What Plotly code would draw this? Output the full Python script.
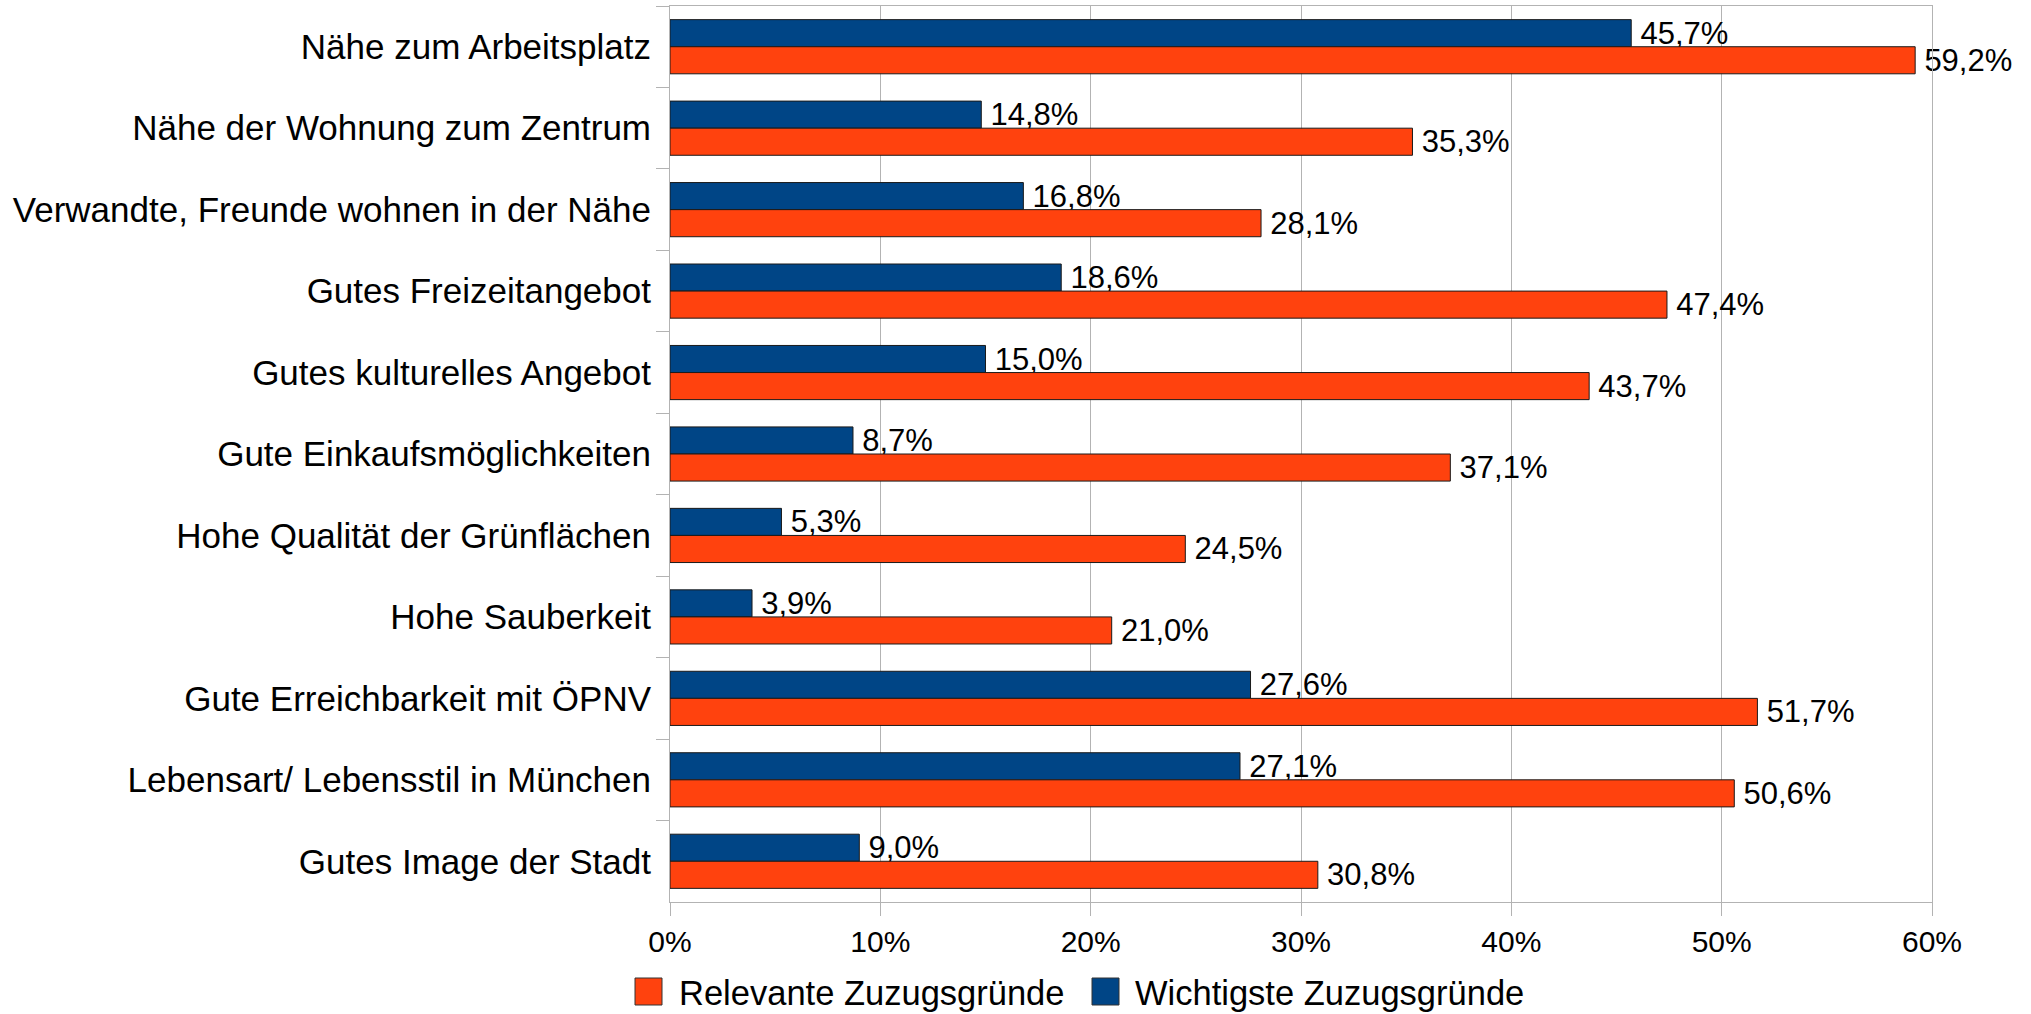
import plotly.graph_objects as go

categories = [
    "Nähe zum Arbeitsplatz",
    "Nähe der Wohnung zum Zentrum",
    "Verwandte, Freunde wohnen in der Nähe",
    "Gutes Freizeitangebot",
    "Gutes kulturelles Angebot",
    "Gute Einkaufsmöglichkeiten",
    "Hohe Qualität der Grünflächen",
    "Hohe Sauberkeit",
    "Gute Erreichbarkeit mit ÖPNV",
    "Lebensart/ Lebensstil in München",
    "Gutes Image der Stadt",
]
wichtigste = [45.7, 14.8, 16.8, 18.6, 15.0, 8.7, 5.3, 3.9, 27.6, 27.1, 9.0]
relevante = [59.2, 35.3, 28.1, 47.4, 43.7, 37.1, 24.5, 21.0, 51.7, 50.6, 30.8]
tick_vals = [0, 10, 20, 30, 40, 50, 60]
tick_text = ["0%", "10%", "20%", "30%", "40%", "50%", "60%"]
legend_names = ["Relevante Zuzugsgründe", "Wichtigste Zuzugsgründe"]

BLUE = "#004586"
ORANGE = "#ff420e"
GRID = "#b3b3b3"
FONT = "Liberation Sans, Arial, sans-serif"

W, H = 2031, 1014
ML, MR, MT, MB = 670, W - 1932, 6, H - 902
PW, PH = W - ML - MR, H - MT - MB


def fmt(v):
    return "\u2009" + f"{v:.1f}".replace(".", ",") + "%"


def px(page_x):
    return (page_x - ML) / PW


def py(page_y):
    return (H - MB - page_y) / PH


fig = go.Figure()
fig.add_trace(go.Bar(
    y=categories, x=wichtigste, orientation="h", name=legend_names[1],
    marker=dict(color=BLUE, line=dict(color="#1a1a1a", width=1)),
    text=[fmt(v) for v in wichtigste], textposition="outside", constraintext="none",
    textfont=dict(size=31, color="black", family=FONT), cliponaxis=False,
    showlegend=False,
))
fig.add_trace(go.Bar(
    y=categories, x=relevante, orientation="h", name=legend_names[0],
    marker=dict(color=ORANGE, line=dict(color="#1a1a1a", width=1)),
    text=[fmt(v) for v in relevante], textposition="outside", constraintext="none",
    textfont=dict(size=31, color="black", family=FONT), cliponaxis=False,
    showlegend=False,
))

# legend drawn with large square swatches (as in the reference)
shapes = []
annotations = []
for name, col, sx0, tx in [(legend_names[0], ORANGE, 635, 677),
                           (legend_names[1], BLUE, 1092, 1133)]:
    shapes.append(dict(type="rect", xref="paper", yref="paper",
                       x0=px(sx0), x1=px(sx0 + 27), y0=py(1005), y1=py(978),
                       fillcolor=col, line=dict(color="#333333", width=1)))
    annotations.append(dict(xref="paper", yref="paper", x=px(tx), y=py(993),
                            xanchor="left", yanchor="middle", showarrow=False,
                            text=name, font=dict(size=34.5, color="black", family=FONT)))

fig.update_layout(
    width=W, height=H,
    margin=dict(l=ML, r=MR, t=MT, b=MB, autoexpand=False),
    paper_bgcolor="white", plot_bgcolor="white",
    barmode="group", bargap=0.335, bargroupgap=0,
    showlegend=False,
    font=dict(family=FONT, size=33, color="black"),
    shapes=shapes, annotations=annotations,
    xaxis=dict(range=[0, 60], tickvals=tick_vals, ticktext=tick_text,
               showgrid=True, gridcolor=GRID, gridwidth=1,
               showline=True, linecolor=GRID, linewidth=1, mirror=True,
               ticks="outside", ticklen=13, tickcolor=GRID, tickwidth=1,
               tickfont=dict(size=30), zeroline=False, fixedrange=True,
               automargin=False),
    yaxis=dict(autorange="reversed", type="category", tickson="boundaries",
               showgrid=False, showline=True, linecolor=GRID, linewidth=1, mirror=True,
               ticks="outside", ticklen=13, tickcolor=GRID, tickwidth=1,
               tickfont=dict(size=35), ticklabelstandoff=11, automargin=False),
)

fig.write_html(
    "out.html",
    config={"displayModeBar": False},
    post_script="document.body.style.margin='0';document.body.style.overflow='hidden';",
)
